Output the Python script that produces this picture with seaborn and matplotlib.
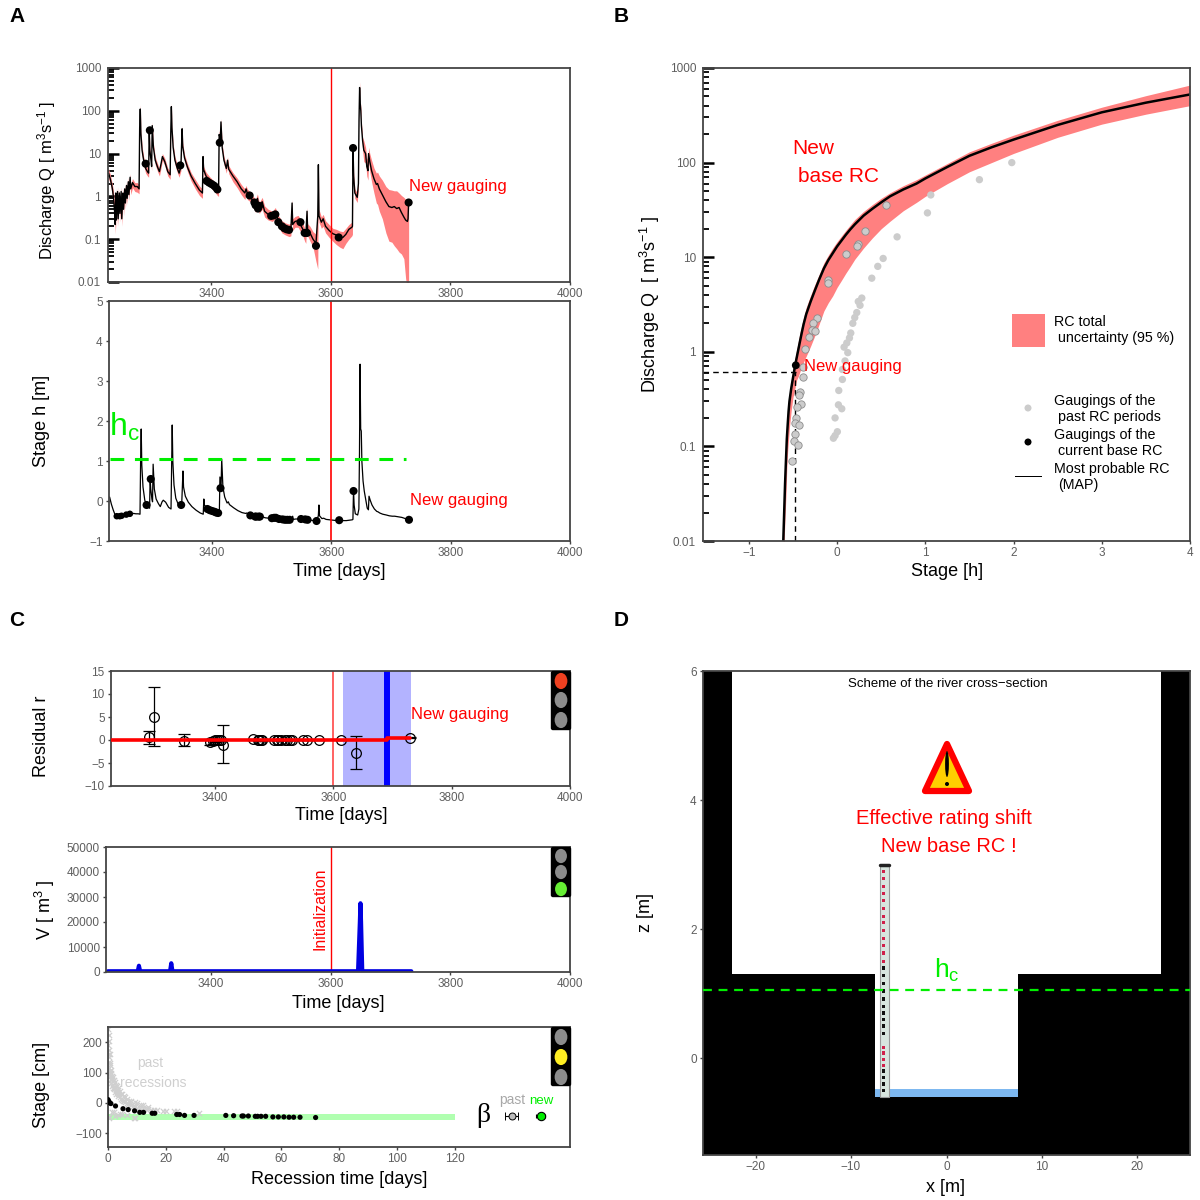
import matplotlib
matplotlib.use('Agg')
import matplotlib.pyplot as plt
from matplotlib.patches import Rectangle, FancyBboxPatch, Ellipse, Polygon
from matplotlib.transforms import Affine2D
from matplotlib.ticker import LogLocator, FixedLocator, NullFormatter, FixedFormatter
import seaborn as sns

# hydrograph, lines of ten
t_series = [3228, 3231, 3234, 3236, 3238, 3239, 3240, 3241, 3243, 3244,
            3246, 3247, 3249, 3250, 3252, 3253, 3255, 3256, 3258, 3259,
            3261, 3262, 3264, 3265, 3268, 3272, 3276, 3279, 3280, 3281,
            3282, 3284, 3287, 3290, 3293, 3295, 3296, 3297, 3299, 3300,
            3301, 3303, 3306, 3310, 3313, 3316, 3318, 3322, 3327, 3331,
            3332, 3333, 3334, 3336, 3339, 3343, 3346, 3349, 3351, 3352,
            3355, 3360, 3366, 3373, 3380, 3385, 3386, 3387, 3391, 3397,
            3404, 3410, 3412, 3413, 3415, 3416, 3418, 3421, 3425, 3427,
            3429, 3436, 3443, 3450, 3456, 3458, 3460, 3465, 3470, 3474,
            3477, 3480, 3485, 3489, 3495, 3502, 3507, 3512, 3518, 3524,
            3530, 3533, 3535, 3536, 3540, 3545, 3549, 3553, 3556, 3558,
            3560, 3561, 3565, 3570, 3575, 3578, 3579, 3580, 3584, 3587,
            3591, 3597, 3603, 3609, 3615, 3620, 3625, 3630, 3635, 3636,
            3637, 3638, 3640, 3644, 3646, 3647, 3648, 3649, 3650, 3651,
            3653, 3655, 3658, 3660, 3662, 3663, 3665, 3668, 3672, 3676,
            3678, 3681, 3686, 3692, 3697, 3702, 3706, 3710, 3714, 3718,
            3722, 3725, 3728, 3729, 3730]
q_med = [3.5, 2.5, 1.6, 1.0, .45, .22, 1.2, .28, 1.3, .3,
         1.2, .4, 1.3, .3, 1.2, .5, 1.5, .7, 1.8, .9,
         2.2, 1.1, 2.8, 1.5, 2.1, 1.7, 1.7, 1.5, 40, 110,
         30, 12, 6.5, 4.5, 3.8, 3.5, 35, 12, 7, 5,
         45, 14, 7, 4.8, 3.8, 6, 8.5, 6.5, 3.8, 3.2,
         30, 125, 40, 14, 7, 4.5, 3.5, 5, 38, 15,
         8, 4.8, 3, 2, 1.4, 1.2, 8.5, 4.2, 3, 2.3,
         1.8, 1.4, 1.3, 28, 22, 55, 14, 7, 4.5, 7,
         4.3, 3, 2.2, 1.5, 1.2, 1.5, 1.2, 1, .75, .6,
         .9, .55, .75, .45, .38, .35, .42, .27, .2, .18,
         .165, .17, .7, .22, .26, .27, .22, .17, .13, .12,
         .45, .17, .14, .1, .08, .35, 5.5, .35, .25, .3,
         .2, .16, .135, .125, .11, .11, .13, .17, .19, .2,
         14, 3, 1.2, .95, 2, 60, 350, 150, 100, 45,
         20, 12, 10, 5, 4, 10, 6.5, 4, 2.6, 1.9,
         2, 1.5, 1.1, .75, .58, .55, .58, .52, .55, .42,
         .33, .28, .26, .3, .72]
q_low = [2.6, 1.9, 1.1, .7, .28, .13, .8, .17, .9, .2,
         .9, .25, .9, .2, .9, .35, 1.1, .5, 1.3, .65,
         1.7, .8, 2.1, 1.1, 1.6, 1.3, 1.25, 1.15, 35, 90,
         25, 9, 5, 3.5, 3, 2.8, 30, 9, 5.5, 4,
         38, 11, 5.5, 3.8, 3, 4.8, 7, 5.2, 3, 2.5,
         25, 105, 33, 11, 5.5, 3.6, 2.8, 4, 32, 12,
         6.4, 3.8, 2.3, 1.5, 1.05, .9, 7, 3.3, 2.3, 1.75,
         1.35, 1.05, 1, 24, 18, 45, 11, 5.5, 3.5, 5.6,
         3.4, 2.2, 1.6, 1.1, .85, 1.1, .85, .75, .55, .42,
         .6, .4, .5, .33, .28, .26, .3, .2, .14, .125,
         .115, .12, .55, .16, .19, .19, .15, .12, .09, .08,
         .35, .12, .09, .065, .03, .02, 4.5, .25, .18, .2,
         .14, .11, .09, .075, .065, .06, .08, .1, .12, .13,
         12, 2.4, .9, .72, 1.5, 50, 290, 120, 70, 35,
         12, 6.5, 6, 3, 2.4, 6.5, 3.8, 2.2, 1.2, .7,
         .65, .45, .3, .14, .09, .085, .07, .06, .05, .045,
         .035, .012, .007, .007, .008]
q_high = [4.5, 3.2, 2, 1.4, .7, .35, 1.6, .45, 1.7, .45,
          1.5, .6, 1.7, .45, 1.6, .7, 1.9, .9, 2.3, 1.2,
          2.8, 1.4, 3.4, 1.9, 2.6, 2.1, 2.1, 1.9, 50, 140,
          38, 15, 8, 5.5, 4.7, 4.3, 42, 15, 8.5, 6,
          55, 17, 8.5, 5.8, 4.5, 7.2, 10, 7.8, 4.6, 3.9,
          37, 150, 50, 17, 8.5, 5.5, 4.3, 6, 46, 18,
          9.6, 5.8, 3.6, 2.5, 1.75, 1.5, 10, 5, 3.7, 2.9,
          2.3, 1.8, 1.65, 34, 27, 66, 17, 8.5, 5.4, 8.4,
          5.2, 3.6, 2.7, 1.9, 1.5, 1.8, 1.5, 1.25, 1, .85,
          1.15, .72, .95, .6, .5, .45, .55, .36, .27, .24,
          .225, .24, .85, .3, .34, .36, .3, .24, .18, .17,
          .55, .23, .2, .15, .13, .5, 6.5, .5, .33, .38,
          .27, .22, .18, .17, .155, .15, .18, .22, .25, .26,
          17, 3.7, 1.5, 1.2, 2.5, 70, 480, 180, 125, 55,
          24, 20, 14, 8, 7, 14, 10, 7, 4.6, 3.5,
          3.7, 3, 2.4, 1.7, 1.45, 1.4, 1.35, 1.35, 1.2, 1.05,
          .95, .85, .8, .85, .9]
stage = [.1, -.08, -.22, -.3, -.37, -.42, -.37, -.41, -.38, -.41,
         -.38, -.4, -.37, -.41, -.38, -.39, -.36, -.38, -.34, -.36,
         -.33, -.35, -.3, -.33, -.31, -.32, -.32, -.33, 1.0, 1.8,
         .9, .35, .02, -.1, -.15, -.18, .55, .3, .05, -.02,
         .92, .3, .05, -.07, -.14, -.02, .02, -.03, -.16, -.2,
         .8, 1.9, 1.0, .4, .07, -.08, -.15, -.05, .75, .35,
         .12, -.03, -.14, -.23, -.3, -.33, .05, -.1, -.17, -.24,
         -.27, -.31, -.32, .6, .4, 1.05, .35, .1, -.05, -.02,
         -.09, -.17, -.24, -.29, -.31, -.3, -.33, -.36, -.38, -.39,
         -.38, -.4, -.4, -.42, -.43, -.43, -.43, -.45, -.47, -.47,
         -.48, -.47, -.38, -.46, -.45, -.45, -.46, -.47, -.48, -.48,
         -.42, -.47, -.48, -.49, -.5, -.37, -.1, -.37, -.44, -.43,
         -.46, -.47, -.48, -.49, -.49, -.49, -.49, -.48, -.47, -.46,
         .27, -.1, -.32, -.35, -.2, 1.2, 3.42, 1.8, 1.75, 1.0,
         .5, .25, 0, -.18, -.22, .12, .02, -.1, -.2, -.26,
         -.27, -.3, -.33, -.35, -.37, -.38, -.38, -.39, -.4, -.41,
         -.43, -.45, -.46, -.46, -.47]

# gaugings of the current period
t_gauge = [3290, 3297, 3348, 3392, 3396, 3400, 3404, 3407, 3410, 3414,
           3464, 3472, 3474, 3478, 3480, 3500, 3504, 3507, 3512, 3518,
           3522, 3526, 3530, 3549, 3556, 3560, 3575, 3613, 3637, 3730]
q_gauge = [5.8, 35, 5.3, 2.3, 2.1, 1.95, 1.8, 1.65, 1.45, 18,
           1.05, .72, .62, .52, .6, .35, .36, .38, .25, .2,
           .18, .17, .165, .25, .14, .14, .07, .11, 13.5, .72]
h_gauge = [-.1, .55, -.1, -.2, -.23, -.25, -.27, -.29, -.3, .32,
           -.36, -.39, -.39, -.39, -.39, -.43, -.42, -.42, -.45, -.46,
           -.47, -.47, -.47, -.45, -.46, -.47, -.5, -.48, .25, -.47]
t_early = [3240, 3245, 3248, 3256, 3262]
h_early = [-.38, -.38, -.37, -.34, -.32]

hc_value = 1.05
t_init = 3600

# rating curve
h_rc = [-.61, -.6, -.59, -.58, -.57, -.56, -.55, -.54, -.52, -.5,
        -.48, -.46, -.44, -.42, -.4, -.38, -.35, -.3, -.25, -.2,
        -.15, -.1, -.05, 0, .05, .1, .15, .2, .3, .4,
        .5, .6, .75, .9, 1, 1.25, 1.5, 1.75, 2, 2.5,
        3, 3.5, 4]
q_rc = [.01, .02, .04, .07, .12, .17, .235, .3, .41, .53,
        .68, .85, 1.05, 1.3, 1.6, 1.95, 2.5, 3.4, 4.5, 5.9,
        7.6, 9.3, 11, 13, 15, 17.3, 19.7, 22.2, 27.5, 32.5,
        38, 44, 52, 60, 68, 90, 118, 145, 175, 250,
        340, 430, 525]
q_rc_low = [.005, .01, .018, .03, .06, .09, .12, .16, .24, .33,
            .4, .5, .55, .62, .7, .78, .9, 1.15, 1.5, 2,
            2.7, 3.3, 3.9, 4.8, 5.7, 6.8, 8, 9.5, 12.5, 16,
            20, 24, 31, 38, 44, 60, 80, 100, 125, 185,
            255, 325, 400]
q_rc_high = [.017, .034, .065, .11, .16, .22, .29, .37, .5, .65,
             .82, 1.03, 1.28, 1.6, 1.92, 2.3, 2.95, 3.95, 5.2, 6.7,
             8.7, 10.5, 12.5, 14.6, 16.8, 19.3, 22, 25, 30.5, 36,
             42, 48, 57, 66, 74, 98, 130, 160, 195, 280,
             385, 510, 660]
h_past_near = [-.227, -.268, -.287, -.314, -.359, -.389, -.389, -.42, -.43, -.408,
               -.457, -.465, -.476, -.427, -.48, -.491, -.446, -.507, -.25, -.102,
               -.102, .102, .238, .23, .321, .552]
q_past_near = [2.3, 2, 1.7, 1.45, 1.08, .69, .54, .38, .35, .28,
               .26, .2, .176, .17, .135, .114, .103, .07, 1.64, 5.7,
               5.4, 10.8, 13.8, 13, 19, 36]
h_past_far = [1.062, 1.024, 1.613, 1.98, .68, .522, .461, .393, .28, .26,
              .223, .178, .155, .11, .079, .121, .06, .06, .019, .015,
              .053, -.023, .003, -.042, -.023, .2, .24, .14, .09]
q_past_far = [45.5, 29.4, 66, 100, 16.4, 9.7, 8, 6, 3.7, 3.1,
              2.6, 2, 1.58, 1.24, 1.12, .98, .65, .51, .39, .275,
              .25, .2, .143, .122, .13, 2.3, 3.4, 1.4, .8]
h_new = -.468
q_new = .72

# residuals
t_resid = [3288, 3296, 3348, 3392, 3396, 3400, 3404, 3407, 3410, 3414,
           3464, 3472, 3474, 3478, 3480, 3500, 3504, 3507, 3512, 3518,
           3522, 3526, 3530, 3549, 3556, 3575, 3613, 3638, 3730]
r_val = [.6, 5, -.2, -.4, -.3, -.1, 0, 0, 0, -1,
         .2, 0, -.1, -.1, -.1, 0, 0, 0, 0, 0,
         0, 0, 0, 0, 0, 0, 0, -2.8, .5]
r_down = [1.4, 6.3, 1.2, .7, .6, .3, .3, .3, .3, 4,
          .1, .1, .1, .1, .1, .1, .1, .1, .1, .1,
          .1, .1, .1, .1, .1, .1, .1, 3.5, .1]
r_up = [1.3, 6.5, 1.4, .7, .6, .3, .3, .3, .3, 4.3,
        .1, .1, .1, .1, .1, .1, .1, .1, .1, .1,
        .1, .1, .1, .1, .1, .1, .1, 3.6, .1]
t_shift = [3224, 3690, 3690, 3730]
r_shift = [0, 0, .5, .5]
t_shift_low = 3616
t_shift_high = 3731
t_shift_map = 3690

# sediment volume
t_volume = [3228, 3278, 3280, 3282, 3332, 3334, 3336, 3646, 3649, 3650, 3651, 3653, 3735]
volume = [300, 300, 2500, 300, 300, 3500, 300, 300, 20000, 27500, 20000, 300, 300]

# recessions
t_past = [.1, .2, .3, .1, .4, .2, .5, .3, .6, .4,
          .7, .5, .8, .6, .9, .7, 1, 1.1, 1.2, 1.3,
          1.4, 1.5, 1.6, 1.8, 2, 2.2, 2.4, 2.6, 2.8, 3,
          3.3, 3.6, 4, 4.4, 4.8, 5.2, 5.6, 6, 6.5, 7,
          7.5, 8, 8.5, 9, 9.5, 10, 11, 12, 13, 14,
          15, 16, 17, 19, 20, 23, 24, 31.5, .2, .5,
          1.5, 2.5, 3.5, 5, 6.5, 9, 9.5, 4.2, 2, 2.4,
          3, 3.6, 4.5, 5.5, 6.6, 8, 10, 12, 1.2, 1.7,
          2.1, 2.8, 3.4, 4.1, 5, 6, 7.4, 9.5, 11.5, 14]
h_past = [245, 225, 205, 190, 175, 160, 150, 135, 125, 115,
          105, 95, 90, 160, 80, 130, 75, 100, 65, 90,
          55, 80, 50, 60, 45, 50, 35, 42, 30, 35,
          28, 22, 18, 14, 10, 8, 6, 4, 1, -2,
          -5, -8, -10, -12, -13, -15, -16, -18, -19, -20,
          -22, -23, -24, -25, -26, -26, -28, -32, -50, -47,
          -30, -42, -40, -35, -40, -50, -50, -35, -30, 70,
          55, 42, 30, 22, 14, 6, 0, -6, 110, 85,
          75, 58, 48, 38, 28, 18, 8, 2, -6, -12]
t_rec = [0, .3, .65, 1, 2.6, 5.2, 7, 9.2, 11, 12.3,
         15.3, 16.2, 23.8, 24.8, 26.5, 29.8, 40.8, 43.5, 46.4, 46.9,
         48.6, 51, 51.8, 53, 54.6, 57.1, 59, 60.9, 62.7, 64.3,
         66.5, 71.9]
h_rec = [11, 5, 0, -2, -10, -19, -22, -26, -31, -31,
         -34, -34, -38, -38, -41, -41, -41, -42, -43, -43,
         -43, -44, -44, -44, -44, -46, -46, -46, -47, -47,
         -47, -48]
beta_low = -56
beta_high = -35
t_band_end = 120
beta_past = -43
beta_new = -43

# river cross-section
x_section = [-25.5, -22.5, -22.5, -7.5, -7.5, 7.5, 7.5, 22.5, 22.5, 25.5]
z_section = [6, 6, 1.3, 1.3, -.6, -.6, 1.3, 1.3, 6, 6]
z_water = -.48
z_staff_top = 3
z_marks_red = [2.9, 2.78, 2.66, 2.55, 2.44, 2.32, 2.2, 2.1, 1.98, 1.86, 1.75, 1.63, 1.5,
               .17, .08, -.02, -.12]
z_marks_black = [1.4, 1.28, 1.16, 1.04, .92, .8, .7, .6, .5, .38,
                 -.2, -.3, -.4, -.5]

log_ticks = [.01, .1, 1, 10, 100, 1000]
log_labels = ['0.01', '0.1', '1', '10', '100', '1000']
time_ticks = [3400, 3600, 3800, 4000]

RED = '#ff0000'
BAND = '#ff8080'
GREEN = '#00ee00'
GREY_TXT = '#5e5e5e'

sns.set_theme(style='white')
plt.rcParams['font.family'] = ['Liberation Sans', 'DejaVu Sans']
plt.rcParams['mathtext.default'] = 'regular'
plt.rcParams['axes.edgecolor'] = '#444444'
plt.rcParams['axes.linewidth'] = 1.3

fig = plt.figure(figsize=(12, 12))
# everything placed by hand goes through this pixel transform
px = Affine2D().scale(1 / 1200, -1 / 1200).translate(0, 1) + fig.transFigure


def make_ax(left, top, right, bottom, xlim, ylim):
    ax = fig.add_axes([left / 1200, 1 - bottom / 1200,
                       (right - left) / 1200, (bottom - top) / 1200])
    ax.set_xlim(xlim)
    ax.set_ylim(ylim)
    ax.tick_params(axis='both', labelsize=8.5, labelcolor=GREY_TXT, length=2.5,
                   width=1, color='#444444', bottom=True, left=True, pad=2)
    return ax


def log_axis(ax):
    ax.set_yscale('log')
    ax.set_ylim(.01, 1000)
    ax.yaxis.set_major_locator(FixedLocator(log_ticks))
    ax.yaxis.set_major_formatter(FixedFormatter(log_labels))
    ax.yaxis.set_minor_locator(LogLocator(base=10, subs=range(2, 10), numticks=12))
    ax.yaxis.set_minor_formatter(NullFormatter())
    ax.tick_params(axis='y', which='major', direction='in', length=8, width=1.8,
                   color='black', pad=5)
    ax.tick_params(axis='y', which='minor', direction='in', length=4.5, width=1.3,
                   color='black', left=True)


def xlabel(ax, txt, x, y):
    ax.set_xlabel(txt, fontsize=13, color='black', va='center')
    ax.xaxis.set_label_coords(x, y, transform=px)


def ylabel(ax, txt, x, y, size=13):
    ax.set_ylabel(txt, fontsize=size, color='black', va='center')
    ax.yaxis.set_label_coords(x, y, transform=px)


def label(x, y, txt, color=RED, size=12, **kw):
    kw.setdefault('ha', 'center')
    fig.text(x, y, txt, color=color, fontsize=size, va='center', transform=px, **kw)


def traffic(top, bottom, centers, colors, w=7.5, h=8.5):
    fig.add_artist(FancyBboxPatch((553, top + 2), 16, bottom - top - 4,
                                  boxstyle='round,pad=1.5', fc='black', ec='black',
                                  transform=px))
    for cy, col in zip(centers, colors):
        fig.add_artist(Ellipse((561, cy), 2 * w * .85, 2 * h * .95, fc=col, ec='none', transform=px))


def line(ax, x, y, **kw):
    sns.lineplot(x=x, y=y, ax=ax, estimator=None, sort=False, errorbar=None, **kw)


for letter, x, y in [('A', 17, 16), ('B', 621, 16), ('C', 17, 620), ('D', 621, 620)]:
    label(x, y, letter, color='black', size=15, fontweight='bold')

# A: discharge
ax = make_ax(108, 68, 570, 282, (3227, 4000), (.01, 1000))
log_axis(ax)
ax.fill_between(t_series, q_low, q_high, color=BAND, lw=0)
line(ax, t_series, q_med, color='black', lw=1)
ax.axvline(t_init, color=RED, lw=1)
sns.scatterplot(x=t_gauge, y=q_gauge, ax=ax, color='black', s=34, edgecolor='none', zorder=5)
ax.set_xticks(time_ticks)
ylabel(ax, 'Discharge Q [ m$^{3}$s$^{-1}$ ]', 47, 180, size=12)
label(458, 186, 'New gauging')

# A: stage
ax = make_ax(109, 301, 570, 541, (3227, 4000), (-1, 5))
line(ax, t_series, stage, color='black', lw=.9)
ax.axvline(t_init, color=RED, lw=1.2)
ax.plot([3228, 3725], [hc_value, hc_value], color=GREEN, lw=2.2, dashes=(4.5, 3.5))
sns.scatterplot(x=t_gauge, y=h_gauge, ax=ax, color='black', s=34, edgecolor='none', zorder=5)
sns.scatterplot(x=t_early, y=h_early, ax=ax, color='black', s=22, edgecolor='none', zorder=5)
ax.set_xticks(time_ticks)
ax.set_yticks([-1, 0, 1, 2, 3, 4, 5])
ylabel(ax, 'Stage h [m]', 42, 421)
xlabel(ax, 'Time [days]', 339, 572)
label(124, 427, 'h$_{c}$', color=GREEN, size=23)
label(459, 500, 'New gauging')

# B: rating curve
ax = make_ax(703, 68, 1190, 541, (-1.52, 4), (.01, 1000))
log_axis(ax)
ax.fill_between(h_rc, q_rc_low, q_rc_high, color=BAND, lw=0)
line(ax, h_rc, q_rc, color='black', lw=1.8)
ax.plot([-1.52, h_new], [.61, .61], color='black', lw=1, dashes=(4, 3))
ax.plot([-.475, -.475], [.01, .61], color='black', lw=1, dashes=(4, 3))
sns.scatterplot(x=h_past_far, y=q_past_far, ax=ax, color='#cccccc', s=28, edgecolor='none', zorder=4)
sns.scatterplot(x=h_past_near, y=q_past_near, ax=ax, color='#cccccc', s=28,
                edgecolor='#8c8c8c', linewidth=.6, zorder=4)
sns.scatterplot(x=[h_new], y=[q_new], ax=ax, color='black', s=32, edgecolor='none', zorder=5)
ax.set_xticks([-1, 0, 1, 2, 3, 4])
ylabel(ax, 'Discharge Q  [ m$^{3}$s$^{-1}$ ]', 650, 304)
xlabel(ax, 'Stage [h]', 947, 572)
label(813, 148, 'New', size=15)
label(838, 177, 'base RC', size=15)
label(853, 366, 'New gauging')
fig.add_artist(Rectangle((1012, 314), 33, 33, fc=BAND, ec='none', transform=px))
label(1054, 322, 'RC total', color='black', size=10.3, ha='left')
label(1058, 338, 'uncertainty (95 %)', color='black', size=10.3, ha='left')
label(1054, 401, 'Gaugings of the', color='black', size=10.3, ha='left')
label(1058, 417, 'past RC periods', color='black', size=10.3, ha='left')
label(1054, 435, 'Gaugings of the', color='black', size=10.3, ha='left')
label(1058, 451, 'current base RC', color='black', size=10.3, ha='left')
label(1054, 469, 'Most probable RC', color='black', size=10.3, ha='left')
label(1058, 485, '(MAP)', color='black', size=10.3, ha='left')
fig.add_artist(Ellipse((1028, 408), 7, 7, fc='#cccccc', ec='none', transform=px))
fig.add_artist(Ellipse((1028, 442), 7, 7, fc='black', ec='none', transform=px))
fig.add_artist(Rectangle((1015, 475.5), 27, 1.6, fc='black', ec='none', transform=px))

# C: residuals
ax = make_ax(111, 671, 570, 786, (3224, 4000), (-10, 15))
ax.axvspan(t_shift_low, t_shift_high, color='#b3b3ff', lw=0)
ax.axvline(t_shift_map, color='#0000ff', lw=4.3)
ax.axvline(t_init, color='#ff5555', lw=1.3)
ax.errorbar(t_resid, r_val, yerr=[r_down, r_up], fmt='o', mfc='none', mec='black', mew=.9,
            ms=7, ecolor='black', elinewidth=.9, capsize=4, capthick=.9, zorder=4)
line(ax, t_shift, r_shift, color=RED, lw=2.6, zorder=5)
ax.set_xticks(time_ticks)
ax.set_yticks([-10, -5, 0, 5, 10, 15])
ylabel(ax, 'Residual r', 41, 736)
xlabel(ax, 'Time [days]', 341, 816)
label(460, 714, 'New gauging')
traffic(671, 730, [681, 700, 720], ['#ee4020', '#8c8c8c', '#8c8c8c'])

# C: volume
ax = make_ax(106, 847, 570, 972, (3225, 4000), (0, 50000))
ax.axvline(t_init, color=RED, lw=1)
line(ax, t_volume, volume, color='#0000e0', lw=3)
ax.set_xticks(time_ticks)
ax.set_yticks([0, 10000, 20000, 30000, 40000, 50000])
ylabel(ax, 'V [ m$^{3}$ ]', 45, 910)
xlabel(ax, 'Time [days]', 338, 1003)
label(320, 909, 'Initialization', size=11.3, rotation=90)
traffic(847, 897, [856, 872, 889], ['#8c8c8c', '#8c8c8c', '#66ee33'], w=7, h=7.5)

# C: recession
ax = make_ax(108, 1027, 570, 1147, (0, 160), (-145, 250))
ax.fill_between([0, t_band_end], beta_low, beta_high, color='#b0ffb0', lw=0)
sns.scatterplot(x=t_past, y=h_past, ax=ax, color='#cfcfcf', marker='x', s=14, linewidth=.9)
sns.scatterplot(x=t_rec, y=h_rec, ax=ax, color='black', s=14, edgecolor='none', zorder=5)
ax.errorbar([139.8], [beta_past], xerr=[[2.2], [2.2]], fmt='o', mfc='#bdbdbd', mec='black',
            mew=.7, ms=5, ecolor='black', elinewidth=.8, capsize=3, capthick=.8)
ax.errorbar([149.8], [beta_new], xerr=[[1.6], [1.6]], fmt='o', mfc='#00ee00', mec='black',
            mew=.8, ms=6, ecolor='black', elinewidth=.8, capsize=1.5, capthick=.8)
ax.set_xticks([0, 20, 40, 60, 80, 100, 120])
ax.set_yticks([-100, 0, 100, 200])
ylabel(ax, 'Stage [cm]', 42, 1085)
xlabel(ax, 'Recession time [days]', 339, 1179)
label(150, 1063, 'past', color='#cfcfcf', size=10)
label(153, 1083, 'recessions', color='#cfcfcf', size=10)
label(512, 1100, 'past', color='#a8a8a8', size=10)
label(541, 1101, 'new', color=GREEN, size=9.5)
label(483, 1115, 'β', color='black', size=20, family=['Liberation Serif', 'DejaVu Serif'])
traffic(1027, 1086, [1037, 1057, 1077], ['#8c8c8c', '#ffee22', '#8c8c8c'])

# D: cross-section
ax = make_ax(703, 671, 1190, 1155, (-25.5, 25.5), (-1.5, 6))
ax.fill_between(x_section, -1.5, z_section, color='black', lw=0)
ax.fill_between([-7.5, 7.5], -.6, z_water, color='#7db8f0', lw=0)
ax.add_patch(Rectangle((-6.95, -.6), .95, z_staff_top + .6, fc='#d8e6df', ec='#9a9a9a', lw=.8, zorder=3))
ax.plot([-6.95, -6], [z_staff_top, z_staff_top], color='#222222', lw=2.5, zorder=4)
sns.scatterplot(x=[-6.6] * len(z_marks_red), y=z_marks_red, ax=ax, color='#d0204a', s=5,
                marker='s', edgecolor='none', zorder=4)
sns.scatterplot(x=[-6.6] * len(z_marks_black), y=z_marks_black, ax=ax, color='#111111', s=6,
                marker='s', edgecolor='none', zorder=4)
ax.plot([-25.5, 25.5], [hc_value, hc_value], color=GREEN, lw=1.6, dashes=(4, 3), zorder=5)
ax.set_xticks([-20, -10, 0, 10, 20])
ax.set_yticks([0, 2, 4, 6])
ylabel(ax, 'z [m]', 645, 912)
xlabel(ax, 'x [m]', 946, 1187)
label(948, 684, 'Scheme of the river cross\u2212section', color='black', size=9.5)
label(947, 970, 'h$_{c}$', color=GREEN, size=19)
label(944, 818, 'Effective rating shift', size=14.5)
label(949, 847, 'New base RC !', size=14.5)
fig.add_artist(Polygon([(947, 744), (925, 791), (969, 791)], closed=True, fc='#ffd000',
                       ec='#ff0000', lw=4.5, joinstyle='round', transform=px))
fig.add_artist(Ellipse((947, 764), 3.8, 26, fc='black', ec='none', transform=px))
fig.add_artist(Ellipse((947, 784), 4, 4, fc='black', ec='none', transform=px))

fig.savefig('out.png', dpi=100)
